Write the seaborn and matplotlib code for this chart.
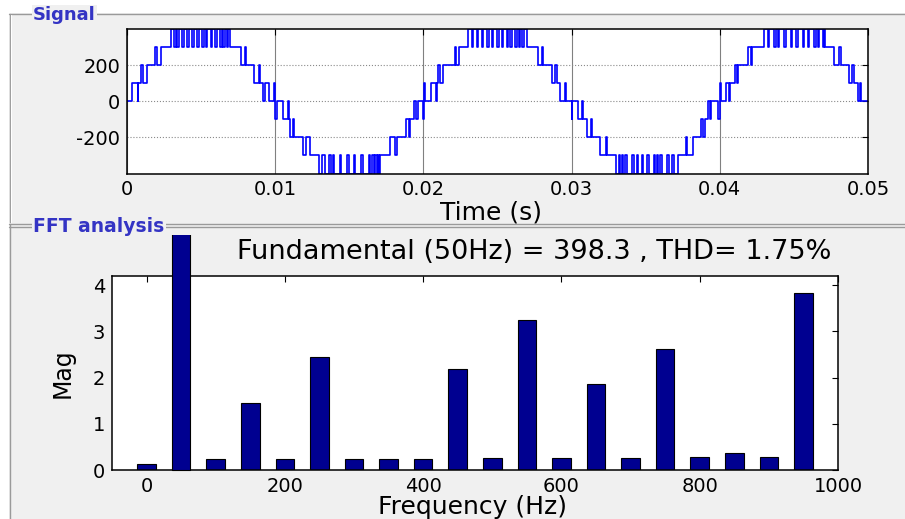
import matplotlib
matplotlib.use("Agg")
import matplotlib.pyplot as plt
from matplotlib.patches import Rectangle
from matplotlib.lines import Line2D
import pandas as pd
import seaborn as sns

# ---------------------------------------------------------------------------
# Inverter output voltage: switching instants (ms) and the level held after them (V)
# ---------------------------------------------------------------------------
signal_steps = [
    # first positive half-cycle
    (0.00, 0), (0.35, 100), (0.72, 0), (0.77, 100), (0.95, 200), (1.05, 100),
    (1.36, 200), (1.87, 300), (2.00, 200), (2.30, 300), (2.97, 400),
    (3.17, 300), (3.30, 400), (3.40, 300), (3.50, 400), (3.74, 300), (3.86, 400),
    (4.07, 300), (4.17, 400), (4.40, 300), (4.52, 400), (4.74, 300), (4.84, 400),
    (5.07, 300), (5.20, 400), (5.30, 300), (5.40, 400), (5.64, 300), (5.76, 400),
    (5.97, 300), (6.08, 400), (6.30, 300), (6.42, 400), (6.50, 300), (6.60, 400),
    (6.73, 300), (6.84, 400), (6.95, 300),
    (7.70, 200), (7.95, 300), (8.05, 200), (8.60, 100), (8.88, 200), (8.98, 100),
    (9.15, 0), (9.30, 100), (9.55, 0), (9.95, 100),
    # first negative half-cycle
    (10.02, -100), (10.10, 0), (10.50, -100), (10.85, 0), (10.90, -100),
    (11.00, -200), (11.20, -100), (11.27, -200), (11.90, -300), (12.10, -200),
    (12.35, -300), (12.97, -400),
    (13.15, -300), (13.35, -400), (13.65, -300), (13.76, -400), (13.90, -300), (14.00, -400),
    (14.35, -300), (14.47, -400), (14.84, -300), (14.95, -400), (15.29, -300), (15.40, -400),
    (15.81, -300), (15.92, -400), (16.30, -300), (16.40, -400), (16.53, -300), (16.64, -400),
    (16.75, -300), (16.85, -400), (16.93, -300), (17.02, -400), (17.10, -300),
    (17.75, -200), (18.05, -300), (18.20, -200), (18.80, -100), (19.00, -200), (19.10, -100),
    (19.35, 0), (19.50, -100), (19.65, 0), (19.97, -100),
    # second positive half-cycle
    (20.05, 100), (20.12, 0), (20.50, 100), (20.82, 0), (20.90, 100), (21.00, 200),
    (21.15, 100), (21.35, 200), (22.10, 300), (22.20, 200), (22.40, 300), (23.00, 400),
    (23.27, 300), (23.38, 400), (23.60, 300), (23.71, 400), (23.94, 300), (24.04, 400),
    (24.28, 300), (24.40, 400), (24.60, 300), (24.70, 400), (24.96, 300), (25.08, 400),
    (25.30, 300), (25.40, 400), (25.64, 300), (25.74, 400), (25.86, 300), (25.97, 400),
    (26.20, 300), (26.31, 400), (26.43, 300), (26.54, 400), (26.65, 300), (26.76, 400),
    (27.00, 300), (27.75, 200), (28.00, 300), (28.07, 200), (28.65, 100), (28.90, 200),
    (29.00, 100), (29.25, 0), (29.55, 100), (29.62, 0),
    # second negative half-cycle
    (30.00, -100), (30.05, 0), (30.40, -100), (30.72, 0), (30.80, -100), (31.05, -200),
    (31.30, -100), (31.38, -200), (31.90, -300), (32.30, -200), (32.40, -300), (33.00, -400),
    (33.17, -300), (33.28, -400), (33.40, -300), (33.50, -400), (33.62, -300), (33.74, -400),
    (34.07, -300), (34.18, -400), (34.40, -300), (34.50, -400), (34.74, -300), (34.84, -400),
    (35.08, -300), (35.19, -400), (35.53, -300), (35.64, -400), (35.76, -300), (35.86, -400),
    (35.98, -300), (36.09, -400), (36.43, -300), (36.54, -400), (36.77, -300), (36.88, -400),
    (37.15, -300), (37.70, -200), (37.80, -300), (38.20, -200), (38.70, -100), (38.85, -200),
    (38.97, -100), (39.20, 0), (39.35, -100), (39.42, 0), (39.88, -100),
    # third positive half-cycle
    (40.00, 100), (40.07, 0), (40.40, 100), (40.60, 0), (40.72, 100), (41.00, 200),
    (41.15, 100), (41.25, 200), (41.90, 300), (42.10, 200), (42.20, 300), (42.95, 400),
    (43.22, 300), (43.33, 400), (43.67, 300), (43.77, 400), (43.90, 300), (44.01, 400),
    (44.35, 300), (44.46, 400), (44.80, 300), (44.90, 400), (45.14, 300), (45.25, 400),
    (45.59, 300), (45.70, 400), (45.92, 300), (46.02, 400), (46.37, 300), (46.48, 400),
    (46.60, 300), (46.70, 400), (46.94, 300), (47.03, 400), (47.10, 300),
    (47.70, 200), (48.05, 300), (48.15, 200), (48.75, 100), (48.95, 200), (49.05, 100),
    (49.30, 0), (49.45, 100), (49.55, 0), (50.00, 0),
]
time_ticks = [0, 0.01, 0.02, 0.03, 0.04, 0.05]
time_tick_labels = ["0", "0.01", "0.02", "0.03", "0.04", "0.05"]
volt_ticks = [-200, 0, 200]
volt_tick_labels = ["-200", "0", "200"]

# ---------------------------------------------------------------------------
# Harmonic spectrum (DC up to 950 Hz)
# ---------------------------------------------------------------------------
harm_freq = [0, 50, 100, 150, 200, 250, 300, 350, 400, 450,
             500, 550, 600, 650, 700, 750, 800, 850, 900, 950]
harm_mag = [0.12, 398.3, 0.23, 1.46, 0.23, 2.44, 0.23, 0.23, 0.23, 2.18,
            0.25, 3.25, 0.25, 1.87, 0.25, 2.61, 0.28, 0.36, 0.28, 3.84]
freq_ticks = [0, 200, 400, 600, 800, 1000]
mag_ticks = [0, 1, 2, 3, 4]
fundamental_hz = 50
fundamental_mag = 398.3
thd_pct = 1.75

# ---------------------------------------------------------------------------
sns.set_theme(style="white")
plt.rcParams["font.family"] = ["DejaVu Sans"]
plt.rcParams["axes.unicode_minus"] = False

W, H = 905, 519
fig = plt.figure(figsize=(W / 100, H / 100), dpi=100, facecolor="white")


def fx(px):
    return px / W


def fy(py):
    return 1 - py / H


panel_bg = "#f0f0f0"
label_blue = "#3434c4"
fig.add_artist(Rectangle((fx(9), 0), 1 - fx(9), fy(13), transform=fig.transFigure,
                         facecolor=panel_bg, edgecolor="none", zorder=0))

# etched panel frames
frame_dark = "#9a9a9a"
for seg in [
    ([fx(9), 1], [fy(14), fy(14)]),
    ([fx(9.5), fx(9.5)], [fy(14), fy(222)]),
    ([fx(9), 1], [fy(224), fy(224)]),
    ([fx(9), 1], [fy(227), fy(227)]),
    ([fx(9.5), fx(9.5)], [fy(224), 0]),
]:
    fig.add_artist(Line2D(seg[0], seg[1], transform=fig.transFigure,
                          color=frame_dark, lw=1.0, zorder=1))
fig.add_artist(Line2D([fx(10.5), fx(10.5)], [fy(15), fy(222)], transform=fig.transFigure,
                      color="white", lw=0.8, zorder=1))

fig.text(fx(33), fy(15), "Signal", ha="left", va="center", color=label_blue,
         fontsize=13, fontweight="bold", zorder=2,
         bbox=dict(facecolor=panel_bg, edgecolor="none", pad=1.0))
fig.text(fx(33), fy(227), "FFT analysis", ha="left", va="center", color=label_blue,
         fontsize=13.5, fontweight="bold", zorder=2,
         bbox=dict(facecolor=panel_bg, edgecolor="none", pad=1.0))

# ---------------------------------------------------------------------------
# Signal axes
# ---------------------------------------------------------------------------
sig_df = pd.DataFrame(signal_steps, columns=["ms", "volts"])
sig_df["Time (s)"] = sig_df["ms"] / 1000.0

ax1 = fig.add_axes([fx(127), fy(173.5), fx(868) - fx(127), fy(29) - fy(173.5)])
ax1.set_facecolor("white")
sns.lineplot(data=sig_df, x="Time (s)", y="volts", estimator=None, sort=False,
             drawstyle="steps-post", color="#0000ff", linewidth=1.2, ax=ax1)
ax1.set_xlim(0, 0.05)
ax1.set_ylim(-400, 400)
ax1.set_xticks(time_ticks)
ax1.set_xticklabels(time_tick_labels)
ax1.set_yticks(volt_ticks)
ax1.set_yticklabels(volt_tick_labels)
ax1.grid(axis="x", color="#808080", linestyle="-", linewidth=0.8)
ax1.grid(axis="y", color="#8a8a8a", linestyle=":", linewidth=0.8)
ax1.set_ylabel("")
ax1.set_xlabel("Time (s)", fontsize=18, color="black")
ax1.xaxis.set_label_coords(0.491, -0.185)
ax1.tick_params(direction="in", top=True, right=True, length=4, width=0.8,
                labelsize=14, colors="black", pad=5)
for sp in ax1.spines.values():
    sp.set_color("black")
    sp.set_linewidth(1.1)

# ---------------------------------------------------------------------------
# FFT axes
# ---------------------------------------------------------------------------
fft_df = pd.DataFrame({"Frequency (Hz)": harm_freq, "Mag": harm_mag})

ax2 = fig.add_axes([fx(112), fy(470), fx(838) - fx(112), fy(276) - fy(470)])
ax2.set_facecolor("white")
sns.barplot(data=fft_df, x="Frequency (Hz)", y="Mag", native_scale=True, width=0.54,
            color="#000090", saturation=1, edgecolor="black", linewidth=0.8, ax=ax2)
ax2.set_xlim(-50, 1000)
ax2.set_ylim(0, 4.2)
ax2.set_xticks(freq_ticks)
ax2.set_xticklabels([str(v) for v in freq_ticks])
ax2.set_yticks(mag_ticks)
ax2.set_yticklabels([str(v) for v in mag_ticks])
ax2.grid(False)
ax2.tick_params(direction="in", top=True, right=True, length=4, width=0.8,
                labelsize=14, colors="black", pad=5)
for sp in ax2.spines.values():
    sp.set_color("black")
    sp.set_linewidth(1.1)

# the fundamental bar runs past the top of the axes up to the panel caption
bar_clip = Rectangle((0, 0), 1, fy(235), transform=fig.transFigure)
for bar in ax2.patches:
    if abs(bar.get_x() + bar.get_width() / 2 - fundamental_hz) < 1:
        bar.set_clip_path(bar_clip)
        bar.set_zorder(3)

ax2.set_xlabel("Frequency (Hz)", fontsize=18, color="black")
ax2.xaxis.set_label_coords(0.497, -0.13)
ax2.set_ylabel("Mag", fontsize=17, color="black")
ax2.yaxis.set_label_coords(-0.052, 0.5)
ax2.text(0.581, 1.124,
         f"Fundamental ({fundamental_hz}Hz) = {fundamental_mag} , THD= {thd_pct}%",
         transform=ax2.transAxes, ha="center", va="center", fontsize=19.5, color="black")

fig.savefig("out.png", dpi=100, facecolor=fig.get_facecolor())
